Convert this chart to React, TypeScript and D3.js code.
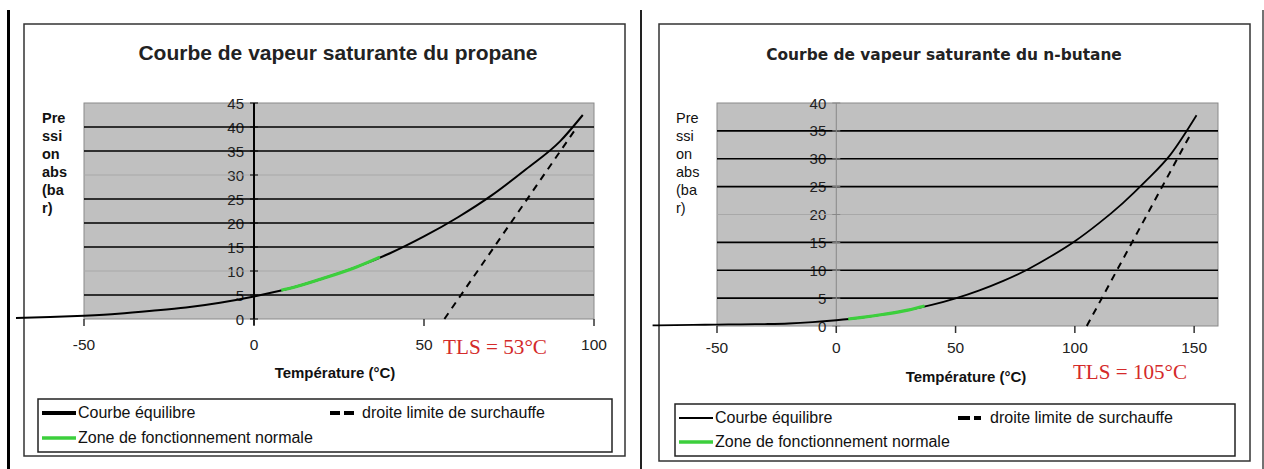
import React from "react";
import * as d3 from "d3";

// propane saturation curve (°C, bar abs)
const propaneT = [-70, -60, -50, -40, -30, -20, -10, 0, 10, 20, 30, 40, 50, 60, 70, 80, 90, 96.7];
const propaneP = [0.2, 0.4, 0.7, 1.1, 1.7, 2.4, 3.4, 4.7, 6.3, 8.4, 10.8, 13.7, 17.2, 21.2, 25.8, 31.2, 37.0, 42.5];
const propaneGreenT = [8, 10, 20, 30, 37];
const propaneGreenP = [6.0, 6.3, 8.4, 10.8, 12.9];
const propaneDashT = [56, 95];
const propaneDashP = [0, 40];

// n-butane saturation curve
const butaneT = [-77, -60, -50, -40, -30, -20, -10, 0, 10, 20, 30, 40, 50, 60, 70, 80, 90, 100, 110, 120, 130, 140, 151];
const butaneP = [0.1, 0.2, 0.25, 0.3, 0.35, 0.45, 0.68, 1.03, 1.48, 2.08, 2.83, 3.78, 4.96, 6.4, 8.1, 10.1, 12.5, 15.2, 18.4, 22.0, 26.1, 30.7, 37.8];
const butaneGreenT = [5, 10, 20, 30, 37];
const butaneGreenP = [1.25, 1.5, 2.1, 2.85, 3.6];
const butaneDashT = [105, 148];
const butaneDashP = [0, 34];

const propaneYTicks = [0, 5, 10, 15, 20, 25, 30, 35, 40, 45];
const butaneYTicks = [0, 5, 10, 15, 20, 25, 30, 35, 40];
const propaneXTicks = [-50, 0, 50, 100];
const butaneXTicks = [-50, 0, 50, 100, 150];
const yLabelLines = ["Pre", "ssi", "on", "abs", "(ba", "r)"];

type Cfg = {
  frame: [number, number, number, number];
  legend: [number, number, number, number];
  title: string;
  titleX: number;
  titleFont: string;
  titleSize: number;
  xDomain: [number, number];
  xRange: [number, number];
  yDomain: [number, number];
  yRange: [number, number];
  xTicks: number[];
  yTicks: number[];
  lightGrid: number[];
  T: number[];
  P: number[];
  gT: number[];
  gP: number[];
  dT: number[];
  dP: number[];
  tls: string;
  tlsX: number;
  tlsY: number;
  tlsW: number;
  xTitleX: number;
  xTitleY: number;
  xLabelDy: number;
  labelX: number;
  boldLabel: boolean;
  curveW: number;
  axisColor: string;
  axisW: number;
  legRow: [number, number];
  dashLegX: number;
  dashMarker: string;
  legLineW: number;
};

const sans = "Liberation Sans, Arial";

function Chart({ c }: { c: Cfg }) {
  const x = d3.scaleLinear().domain(c.xDomain).range(c.xRange);
  const y = d3.scaleLinear().domain(c.yDomain).range(c.yRange);
  const line = d3
    .line<[number, number]>()
    .x((d) => x(d[0]))
    .y((d) => y(d[1]))
    .curve(d3.curveMonotoneX);
  const main = c.T.map((t, i) => [t, c.P[i]] as [number, number]);
  const green = c.gT.map((t, i) => [t, c.gP[i]] as [number, number]);
  const dash = c.dT.map((t, i) => [t, c.dP[i]] as [number, number]);
  const [x0, x1] = c.xRange;
  const [yb, yt] = c.yRange;
  const x0axis = x(0);
  const [fx, fy, fx2, fy2] = c.frame;
  const [lx, ly, lx2, ly2] = c.legend;
  const txt = "#222";
  return (
    <g>
      <rect x={fx} y={fy} width={fx2 - fx} height={fy2 - fy} fill="#fff" stroke="#333" strokeWidth={1.5} />
      <text
        x={c.titleX}
        y={60}
        textAnchor="middle"
        fontFamily={c.titleFont}
        fontWeight="bold"
        fontSize={c.titleSize}
        fill="#222"
      >
        {c.title}
      </text>
      {yLabelLines.map((s, i) => (
        <text
          key={s}
          x={c.labelX}
          y={123 + i * 18}
          fontFamily={sans}
          fontWeight={c.boldLabel ? "bold" : "normal"}
          fontSize={14.5}
          fill="#111"
        >
          {s}
        </text>
      ))}
      <rect x={x0} y={yt} width={x1 - x0} height={yb - yt} fill="#c0c0c0" stroke="#8a8a8a" strokeWidth={1} />
      {c.yTicks.map((v) => (
        <text
          key={"yl" + v}
          x={x0axis - 10}
          y={y(v) + 5.5}
          textAnchor="end"
          fontFamily={sans}
          fontSize={15}
          fill={txt}
        >
          {v}
        </text>
      ))}
      {c.yTicks
        .filter((v) => v > c.yDomain[0] && v < c.yDomain[1])
        .map((v) => (
          <line
            key={"g" + v}
            x1={x0}
            x2={x1}
            y1={y(v)}
            y2={y(v)}
            stroke={c.lightGrid.includes(v) ? "#a8a8a8" : "#000"}
            strokeWidth={c.lightGrid.includes(v) ? 1 : 1.6}
          />
        ))}
      {c.yTicks.map((v) => (
        <line key={"yt" + v} x1={x0axis - 4} x2={x0axis + 4} y1={y(v)} y2={y(v)} stroke={c.axisColor} strokeWidth={1} />
      ))}
      <line x1={x0axis} x2={x0axis} y1={yt} y2={yb + 6} stroke={c.axisColor} strokeWidth={c.axisW} />
      {c.xTicks.map((v) => (
        <g key={"xt" + v}>
          <line x1={x(v)} x2={x(v)} y1={yb} y2={yb + 7} stroke="#333" strokeWidth={1.5} />
          <text x={x(v)} y={yb + c.xLabelDy} textAnchor="middle" fontFamily={sans} fontSize={15.5} fill={txt}>
            {v}
          </text>
        </g>
      ))}
      <path d={line(main) ?? ""} fill="none" stroke="#000" strokeWidth={c.curveW} />
      <path d={line(green) ?? ""} fill="none" stroke="#3ccf3c" strokeWidth={3.2} />
      <path d={line(dash) ?? ""} fill="none" stroke="#000" strokeWidth={2} strokeDasharray="7,6" />
      <text
        x={c.tlsX}
        y={c.tlsY}
        fontFamily="Liberation Serif, Times New Roman"
        fontSize={22}
        fill="#d42a2a"
        textLength={c.tlsW}
        lengthAdjust="spacingAndGlyphs"
      >
        {c.tls}
      </text>
      <text
        x={c.xTitleX}
        y={c.xTitleY}
        textAnchor="middle"
        fontFamily={sans}
        fontWeight="bold"
        fontSize={15}
        fill="#111"
      >
        Température (°C)
      </text>
      <rect x={lx} y={ly} width={lx2 - lx} height={ly2 - ly} fill="#fff" stroke="#222" strokeWidth={1.5} />
      <line x1={lx + 4} x2={lx + 38} y1={c.legRow[0] - 5} y2={c.legRow[0] - 5} stroke="#000" strokeWidth={c.legLineW} />
      <text x={lx + 40} y={c.legRow[0]} fontFamily={sans} fontSize={16} fill="#111">
        Courbe équilibre
      </text>
      <line x1={lx + 4} x2={lx + 38} y1={c.legRow[1] - 5} y2={c.legRow[1] - 5} stroke="#3ccf3c" strokeWidth={3.5} />
      <text x={lx + 40} y={c.legRow[1]} fontFamily={sans} fontSize={16} fill="#111">
        Zone de fonctionnement normale
      </text>
      <line
        x1={c.dashLegX}
        x2={c.dashLegX + 27}
        y1={c.legRow[0] - 5}
        y2={c.legRow[0] - 5}
        stroke="#000"
        strokeWidth={4}
        strokeDasharray={c.dashMarker}
      />
      <text x={c.dashLegX + 32} y={c.legRow[0]} fontFamily={sans} fontSize={16} fill="#111">
        droite limite de surchauffe
      </text>
    </g>
  );
}

const propaneCfg: Cfg = {
  frame: [24, 24, 625, 456],
  legend: [38, 399, 612, 452],
  title: "Courbe de vapeur saturante du propane",
  titleX: 338,
  titleFont: sans,
  titleSize: 21,
  xDomain: [-50, 100],
  xRange: [84, 594],
  yDomain: [0, 45],
  yRange: [319, 103],
  xTicks: propaneXTicks,
  yTicks: propaneYTicks,
  lightGrid: [10, 30],
  T: propaneT,
  P: propaneP,
  gT: propaneGreenT,
  gP: propaneGreenP,
  dT: propaneDashT,
  dP: propaneDashP,
  tls: "TLS = 53°C",
  tlsX: 443,
  tlsY: 354,
  tlsW: 104,
  xTitleX: 335,
  xTitleY: 378,
  xLabelDy: 31,
  labelX: 42,
  boldLabel: true,
  curveW: 2,
  axisColor: "#000",
  axisW: 2,
  legRow: [418, 443],
  dashLegX: 330,
  dashMarker: "10,4",
  legLineW: 4,
};

const butaneCfg: Cfg = {
  frame: [659, 24, 1250, 461],
  legend: [675, 404, 1235, 456],
  title: "Courbe de vapeur saturante du n-butane",
  titleX: 944,
  titleFont: "DejaVu Sans, Verdana",
  titleSize: 15.4,
  xDomain: [-50, 160],
  xRange: [717, 1218],
  yDomain: [0, 40],
  yRange: [326, 103],
  xTicks: butaneXTicks,
  yTicks: butaneYTicks,
  lightGrid: [20],
  T: butaneT,
  P: butaneP,
  gT: butaneGreenT,
  gP: butaneGreenP,
  dT: butaneDashT,
  dP: butaneDashP,
  tls: "TLS = 105°C",
  tlsX: 1073,
  tlsY: 379,
  tlsW: 114,
  xTitleX: 966,
  xTitleY: 382,
  xLabelDy: 27,
  labelX: 676,
  boldLabel: false,
  curveW: 1.8,
  axisColor: "#888",
  axisW: 1,
  legRow: [423, 447],
  dashLegX: 958,
  dashMarker: "12,4,7,100",
  legLineW: 2,
};

export default function App() {
  return (
    <svg
      width={1264}
      height={469}
      style={{ position: "absolute", left: 0, top: 0, background: "#fff" }}
    >
      <line x1={8.5} x2={8.5} y1={10} y2={469} stroke="#000" strokeWidth={3} />
      <line x1={641} x2={641} y1={10} y2={469} stroke="#222" strokeWidth={2} />
      <line x1={1263} x2={1263} y1={10} y2={469} stroke="#444" strokeWidth={1.5} />
      <Chart c={propaneCfg} />
      <Chart c={butaneCfg} />
    </svg>
  );
}
